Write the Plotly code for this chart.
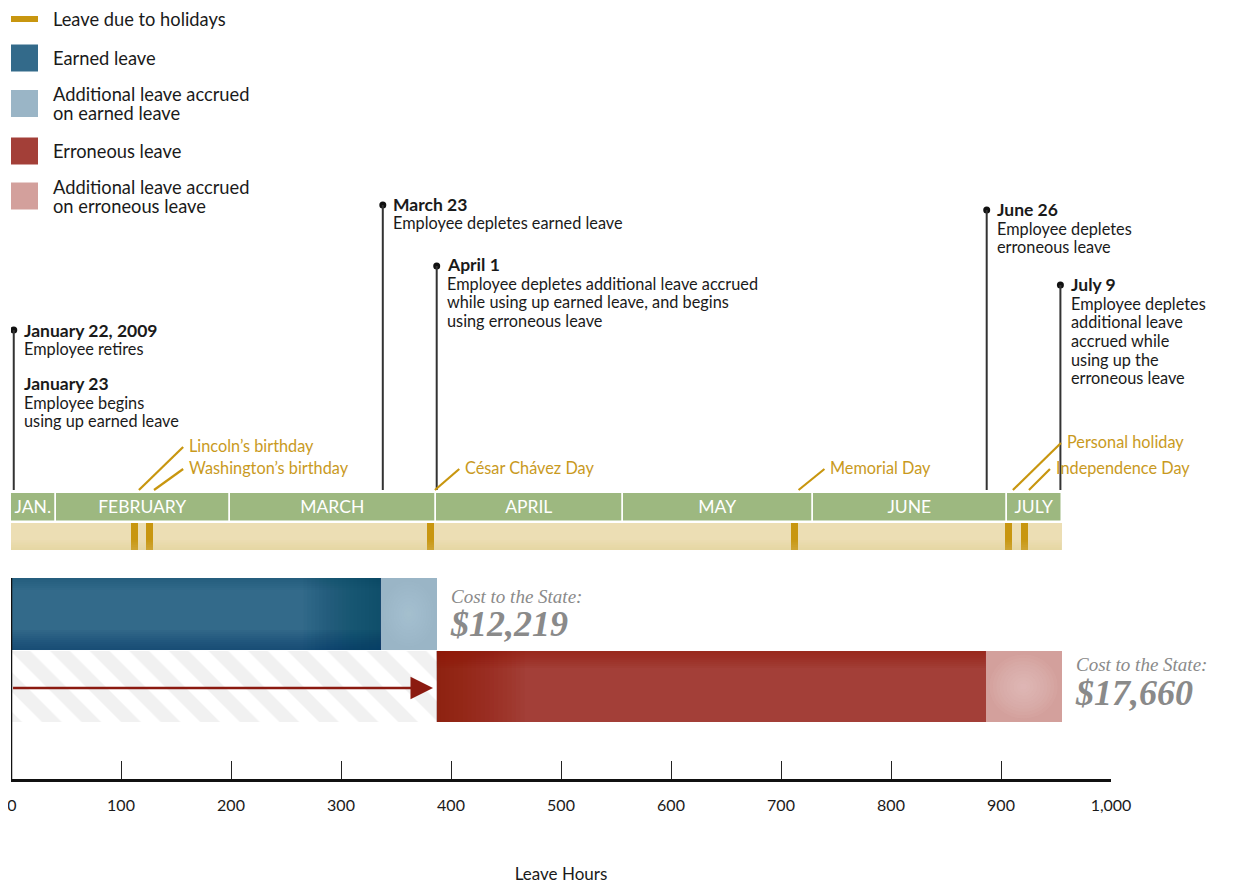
import plotly.graph_objects as go

# ---------------- data ----------------
months = ["JAN.", "FEBRUARY", "MARCH", "APRIL", "MAY", "JUNE", "JULY"]
month_start = [0, 41, 199, 386, 556, 729, 905]
month_end = [41, 199, 386, 556, 729, 905, 955]

holidays = ["Lincoln’s birthday", "Washington’s birthday", "César Chávez Day",
            "Memorial Day", "Personal holiday", "Independence Day"]
holiday_center = [112.3, 126.0, 381.4, 712.0, 906.8, 921.4]
holiday_width = 6.5
holiday_label_x = [160, 160, 411, 743, 958, 948]
holiday_label_y = [445, 467, 467, 467, 441, 467]

earned_start, earned_end = 0, 336
acc_earned_end = 387
erroneous_end = 886
acc_err_end = 955

timeline_end = 955

event_x = [2.5, 338, 387, 887, 954]
event_top = [330, 205, 266, 210, 285]
event_lines = [
    [("January 22, 2009", True, 330), ("Employee retires", False, 348),
     ("January 23", True, 383), ("Employee begins", False, 402),
     ("using up earned leave", False, 420)],
    [("March 23", True, 204), ("Employee depletes earned leave", False, 222)],
    [("April 1", True, 264), ("Employee depletes additional leave accrued", False, 283),
     ("while using up earned leave, and begins", False, 301),
     ("using erroneous leave", False, 320)],
    [("June 26", True, 209), ("Employee depletes", False, 228), ("erroneous leave", False, 246)],
    [("July 9", True, 284), ("Employee depletes", False, 303), ("additional leave", False, 321),
     ("accrued while", False, 340), ("using up the", False, 359), ("erroneous leave", False, 377)],
]

legend_labels = [["Leave due to holidays"], ["Earned leave"],
                 ["Additional leave accrued", "on earned leave"], ["Erroneous leave"],
                 ["Additional leave accrued", "on erroneous leave"]]
legend_colors = ["#c8960f", "#336a8a", "#9ab5c6", "#a33f38", "#d3a09c"]

cost_labels = ["$12,219", "$17,660"]

tick_vals = [0, 100, 200, 300, 400, 500, 600, 700, 800, 900, 1000]
tick_text = ["\u20090", "100", "200", "300", "400", "500", "600", "700", "800", "900", "1,000"]

# ---------------- styling ----------------
FONT = "Lato"
SERIF = "Liberation Serif"
GOLD = "#c8960f"
GOLD_TXT = "#c99a1e"
GREEN = "#9db880"
TAN = "#ecdeb4"
TXT = "#1a1a1a"

PX = 1.1  # pixels per hour


def hx(px):
    return (px - 11) / PX


fig = go.Figure()
shapes = []
annotations = []

# timeline: months
fig.add_trace(go.Bar(
    orientation="h", y=[507.5] * len(months),
    x=[e - s for s, e in zip(month_start, month_end)], base=month_start,
    width=[29] * len(months), marker=dict(color=GREEN, line=dict(color="white", width=1.5)),
    text=months, textposition="inside", insidetextanchor="middle",
    textfont=dict(family=FONT, size=17.5, color="white"), hoverinfo="skip", showlegend=False))

# tan band
fig.add_trace(go.Bar(
    orientation="h", y=[536.5], x=[timeline_end], base=[0], width=[27],
    marker=dict(color=TAN, line=dict(width=0)), hoverinfo="skip", showlegend=False))

# holidays
fig.add_trace(go.Bar(
    orientation="h", y=[536.5] * len(holidays), x=[holiday_width] * len(holidays),
    base=[c - holiday_width / 2 for c in holiday_center], width=[27] * len(holidays),
    marker=dict(color=GOLD, line=dict(width=0)), hoverinfo="skip", showlegend=False))

# main bars
fig.add_trace(go.Bar(orientation="h", y=[614], x=[earned_end - earned_start], base=[earned_start],
                     width=[72], marker=dict(color="#336a8a", line=dict(width=0)),
                     hoverinfo="skip", showlegend=False))
fig.add_trace(go.Bar(orientation="h", y=[614], x=[acc_earned_end - earned_end], base=[earned_end],
                     width=[72], marker=dict(color="#9ab5c6", line=dict(width=0)),
                     hoverinfo="skip", showlegend=False))
fig.add_trace(go.Bar(orientation="h", y=[686.5], x=[acc_earned_end], base=[0],
                     width=[71], marker=dict(color="white", line=dict(width=0),
                                             pattern=dict(shape="\\", fgcolor="#e4e4e4", bgcolor="white",
                                                          size=28, solidity=0.5)),
                     hoverinfo="skip", showlegend=False))
fig.add_trace(go.Bar(orientation="h", y=[686.5], x=[erroneous_end - acc_earned_end], base=[acc_earned_end],
                     width=[71], marker=dict(color="#a33f38", line=dict(width=0)),
                     hoverinfo="skip", showlegend=False))
fig.add_trace(go.Bar(orientation="h", y=[686.5], x=[acc_err_end - erroneous_end], base=[erroneous_end],
                     width=[71], marker=dict(color="#d3a09c", line=dict(width=0)),
                     hoverinfo="skip", showlegend=False))


def hgrad(x0, x1, y0, y1, color, steps, maxop, toward="right"):
    for i in range(1, steps + 1):
        f = i / steps
        if toward == "right":
            a, b = x0 + (x1 - x0) * (1 - f), x1
        else:
            a, b = x0, x0 + (x1 - x0) * f
        shapes.append(dict(type="rect", xref="x", yref="y", x0=a, x1=b, y0=y0, y1=y1,
                           fillcolor=color, opacity=maxop / steps, line=dict(width=0), layer="above"))


def vgrad(x0, x1, y0, y1, color, steps, maxop, toward="bottom"):
    for i in range(1, steps + 1):
        f = i / steps
        if toward == "bottom":
            a, b = y0 + (y1 - y0) * (1 - f), y1
        else:
            a, b = y0, y0 + (y1 - y0) * f
        shapes.append(dict(type="rect", xref="x", yref="y", x0=x0, x1=x1, y0=a, y1=b,
                           fillcolor=color, opacity=maxop / steps, line=dict(width=0), layer="above"))


def glow(x0, x1, y0, y1, color, steps, maxop):
    cx, cy = (x0 + x1) / 2, (y0 + y1) / 2
    for i in range(1, steps + 1):
        f = 1 - (i - 1) / steps
        rx, ry = (x1 - x0) / 2 * f * 0.9, (y1 - y0) / 2 * f * 0.9
        shapes.append(dict(type="circle", xref="x", yref="y", x0=cx - rx, x1=cx + rx,
                           y0=cy - ry, y1=cy + ry, fillcolor=color, opacity=maxop / steps,
                           line=dict(width=0), layer="above"))


# gradient styling on bars
hgrad(earned_end - 70, earned_end, 578, 650, "#013d62", 20, 0.9, "right")
vgrad(earned_start, earned_end, 630, 650, "#003a60", 10, 0.6, "bottom")
vgrad(earned_start, earned_end, 578, 590, "#003a60", 6, 0.25, "top")
glow(earned_end, acc_earned_end, 578, 650, "#b8cdd9", 10, 0.8)
hgrad(acc_earned_end, acc_earned_end + 80, 651, 722, "#8a1005", 20, 0.85, "left")
vgrad(acc_earned_end, erroneous_end, 651, 668, "#8a1005", 8, 0.5, "top")
glow(erroneous_end, acc_err_end, 651, 722, "#eccaca", 10, 0.9)
# fade of hatching at left
hgrad(0, acc_earned_end * 0.75, 651, 722, "white", 12, 0.8, "left")
# tan band shading
vgrad(0, timeline_end, 540, 550, "#dcc78f", 6, 0.35, "bottom")

# arrow
annotations.append(dict(x=hx(433), y=688, ax=0.5, ay=688, xref="x", yref="y", axref="x", ayref="y",
                        showarrow=True, arrowhead=2, arrowsize=1.8, arrowwidth=2.5,
                        arrowcolor="#8b1a10", text=""))

# left vertical axis stub
shapes.append(dict(type="line", xref="x", yref="y", x0=0, x1=0, y0=578, y1=779,
                   line=dict(color="#111", width=2.5)))

# event lines
for x, top in zip(event_x, event_top):
    shapes.append(dict(type="line", xref="x", yref="y", x0=x, x1=x, y0=top, y1=490,
                       line=dict(color="#333", width=2)))
fig.add_trace(go.Scatter(x=event_x, y=event_top, mode="markers",
                         marker=dict(color="#111", size=7), hoverinfo="skip", showlegend=False))

for x, lines in zip(event_x, event_lines):
    for txt, bold, yy in lines:
        annotations.append(dict(x=x + 7.5, y=yy, xref="x", yref="y", xanchor="left", yanchor="middle",
                                text=f"<b>{txt}</b>" if bold else txt, showarrow=False,
                                font=dict(family=FONT, size=17.5 if bold else 16.3, color=TXT)))

# holiday leaders + labels
for name, c, lx, ly in zip(holidays, holiday_center, holiday_label_x, holiday_label_y):
    shapes.append(dict(type="line", xref="x", yref="y", x0=c + 4, y0=490, x1=lx - 3.5, y1=ly + 2,
                       line=dict(color=GOLD, width=2.2)))
    annotations.append(dict(x=lx, y=ly, xref="x", yref="y", xanchor="left", yanchor="middle",
                            text=name, showarrow=False, font=dict(family=FONT, size=16.3, color=GOLD_TXT)))

# legend (drawn)
legend_y = [19, 58, 103.5, 151, 196]
for lab, col, yy in zip(legend_labels, legend_colors, legend_y):
    if col == GOLD:
        shapes.append(dict(type="rect", xref="x", yref="y", x0=0, x1=hx(38), y0=yy - 3, y1=yy + 3,
                           fillcolor=col, line=dict(width=0)))
    else:
        shapes.append(dict(type="rect", xref="x", yref="y", x0=0, x1=hx(38), y0=yy - 13.5, y1=yy + 13.5,
                           fillcolor=col, line=dict(width=0)))
    n = len(lab)
    for i, t in enumerate(lab):
        off = (i - (n - 1) / 2) * 19
        annotations.append(dict(x=hx(51), y=yy + off, xref="x", yref="y", xanchor="left", yanchor="middle",
                                text=t, showarrow=False, font=dict(family=FONT, size=18.3, color=TXT)))

# cost labels
cost_pos = [(hx(449), 596, 624), (hx(1074), 664, 693)]
for lab, (cx, y1, y2) in zip(cost_labels, cost_pos):
    annotations.append(dict(x=cx, y=y1, xref="x", yref="y", xanchor="left", yanchor="middle",
                            text="<i>Cost to the State:</i>", showarrow=False,
                            font=dict(family=SERIF, size=19, color="#8a8a8a")))
    annotations.append(dict(x=cx - 1, y=y2, xref="x", yref="y", xanchor="left", yanchor="middle",
                            text=f"<b><i>{lab}</i></b>", showarrow=False,
                            font=dict(family=SERIF, size=36, color="#8a8a8a")))

# The page body has an 8px margin; the figure is sized so that data y equals page pixels.
fig.update_layout(
    width=1228, height=876, margin=dict(l=3, r=125, t=0, b=105, autoexpand=False),
    paper_bgcolor="white", plot_bgcolor="white", barmode="overlay", bargap=0,
    shapes=shapes, annotations=annotations,
    xaxis=dict(range=[0, 1000], showgrid=False, zeroline=False, showline=True, linecolor="#111",
               linewidth=3, ticks="inside", ticklen=18, tickwidth=1, tickcolor="#222",
               tickvals=tick_vals, ticktext=tick_text, ticklabelstandoff=10,
               ticklabeloverflow="allow", automargin=False,
               tickfont=dict(family=FONT, size=16, color=TXT),
               title=dict(text="Leave Hours", font=dict(family=FONT, size=17, color=TXT), standoff=56),
               fixedrange=True),
    yaxis=dict(range=[779, 8], visible=False, fixedrange=True, automargin=False),
    font=dict(family=FONT),
)

fig.write_html("out.html")
